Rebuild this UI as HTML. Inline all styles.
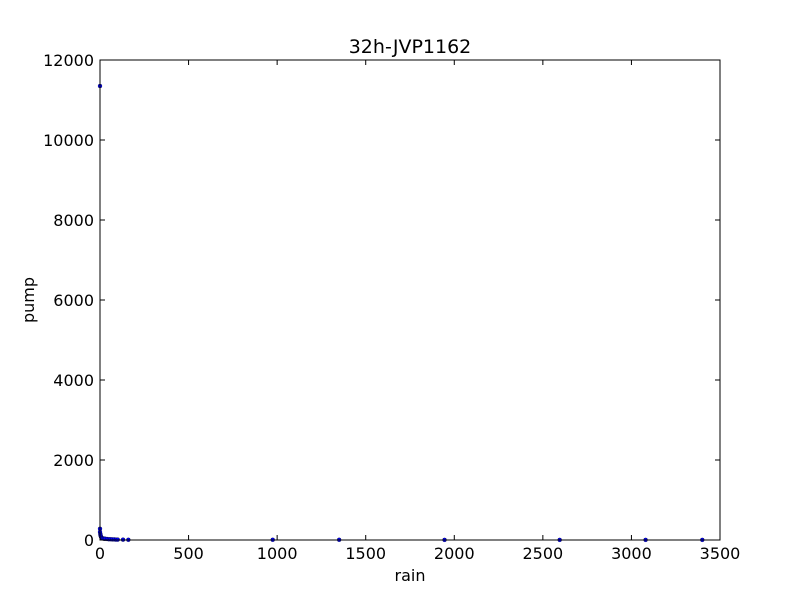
<!DOCTYPE html>
<html><head><style>
body{margin:0;background:#fff;}
svg text{font-family:"DejaVu Sans","Liberation Sans",sans-serif;}
</style></head><body>
<svg id="chart" width="800" height="600">
<rect width="800" height="600" fill="#fff"/>
<text x="410" y="53" font-size="19" text-anchor="middle">32h-JVP1162</text>
<text x="410" y="581" font-size="16" text-anchor="middle">rain</text>
<text x="34" y="300" font-size="16" text-anchor="middle" transform="rotate(-90 34 300)">pump</text>
<g id="ticks"></g>
<g id="points"></g>
<rect x="100" y="60" width="620" height="480" fill="none" stroke="#000" stroke-width="1"/>
</svg>
<script>
const xTicks=[0,500,1000,1500,2000,2500,3000,3500];
const yTicks=[0,2000,4000,6000,8000,10000,12000];
const rainValues=[0,0,0,2,3,5,8,10,15,20,25,30,40,50,60,70,80,90,100,130,160,975,1350,1945,2595,3080,3400];
const pumpValues=[11350,280,200,150,120,90,60,50,40,35,30,30,25,20,20,15,15,10,10,8,5,5,5,3,3,3,3];
const X0=100,X1=720,Y0=540,Y1=60;
function xs(v){return X0+(v-0)/3500*(X1-X0);}
function ys(v){return Y0-(v-0)/12000*(Y0-Y1);}
const NS="http://www.w3.org/2000/svg";
const tg=document.getElementById('ticks');
xTicks.forEach(t=>{
 const x=xs(t);
 [[Y0,Y0-5],[Y1,Y1+5]].forEach(p=>{const l=document.createElementNS(NS,'line');l.setAttribute('x1',x);l.setAttribute('x2',x);l.setAttribute('y1',p[0]);l.setAttribute('y2',p[1]);l.setAttribute('stroke','#000');
 
 
 tg.appendChild(l);});
 const tx=document.createElementNS(NS,'text');tx.setAttribute('x',x);tx.setAttribute('y',Y0+19);tx.setAttribute('font-size','16');tx.setAttribute('text-anchor','middle');tx.textContent=t;
 
 
 tg.appendChild(tx);
});
yTicks.forEach(t=>{
 const y=ys(t);
 [[X0,X0+5],[X1,X1-5]].forEach(p=>{const l=document.createElementNS(NS,'line');l.setAttribute('y1',y);l.setAttribute('y2',y);l.setAttribute('x1',p[0]);l.setAttribute('x2',p[1]);l.setAttribute('stroke','#000');
 
 
 tg.appendChild(l);});
 const tx=document.createElementNS(NS,'text');tx.setAttribute('x',X0-6);tx.setAttribute('y',y+6);tx.setAttribute('font-size','16');tx.setAttribute('text-anchor','end');tx.textContent=t;
 
 
 tg.appendChild(tx);
});
const pg=document.getElementById('points');
rainValues.forEach((r,i)=>{
 const c=document.createElementNS(NS,'circle');
 c.setAttribute('cx',xs(r));c.setAttribute('cy',ys(pumpValues[i]));c.setAttribute('r','2');c.setAttribute('fill','#0000ff');c.setAttribute('stroke','#000');c.setAttribute('stroke-width','0.3');
 
 
 pg.appendChild(c);
});
</script>
</body></html>
